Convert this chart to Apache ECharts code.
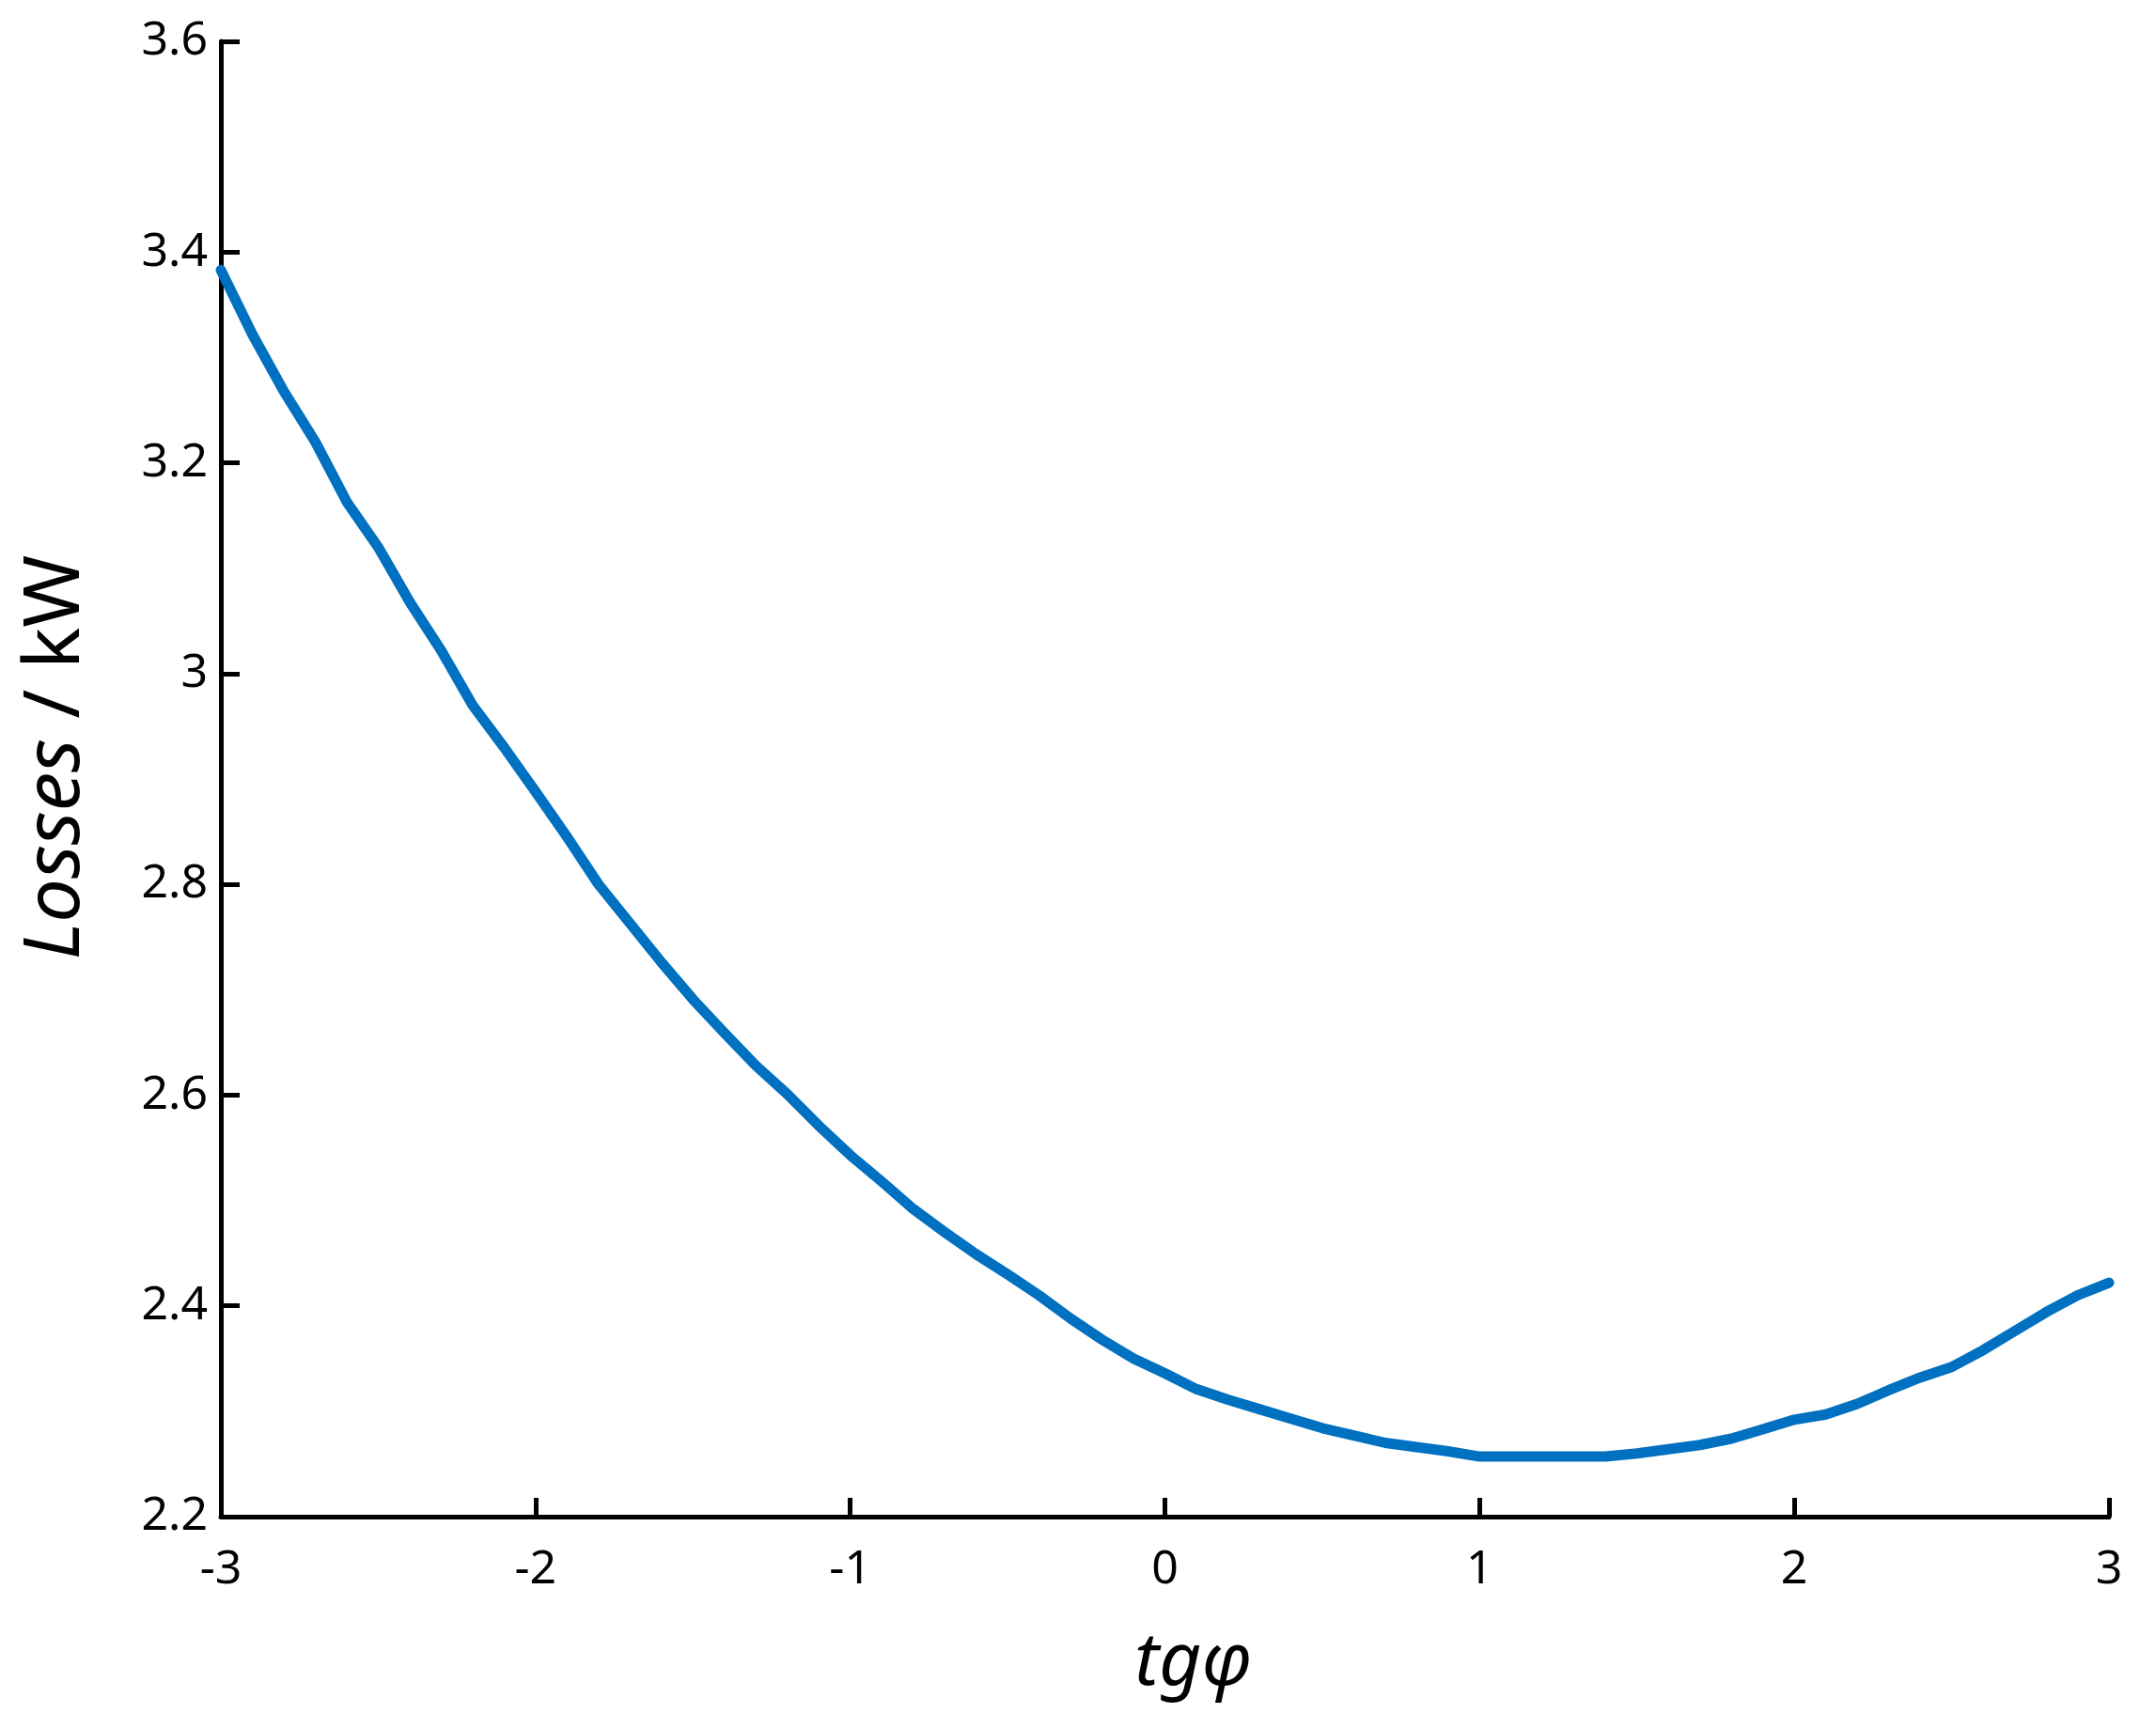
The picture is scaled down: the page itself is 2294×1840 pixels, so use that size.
<!DOCTYPE html>
<html>
<head>
<meta charset="utf-8">
<script src="https://cdn.jsdelivr.net/npm/echarts@6/dist/echarts.min.js"></script>
<style>
html,body{margin:0;padding:0;background:#fff;}
#chart{width:2294px;height:1840px;}
</style>
</head>
<body>
<div id="chart"></div>
<script>
// x values (tgφ)
const tgPhi = [-3.0,-2.9,-2.8,-2.7,-2.6,-2.5,-2.4,-2.3,-2.2,-2.1,-2.0,-1.9,-1.8,-1.7,-1.6,-1.5,-1.4,-1.3,-1.2,-1.1,-1.0,-0.9,-0.8,-0.7,-0.6,-0.5,-0.4,-0.3,-0.2,-0.1,0.0,0.1,0.2,0.3,0.4,0.5,0.6,0.7,0.8,0.9,1.0,1.1,1.2,1.3,1.4,1.5,1.6,1.7,1.8,1.9,2.0,2.1,2.2,2.3,2.4,2.5,2.6,2.7,2.8,2.9,3.0];
// losses (kW)
const losses = [3.383,3.322,3.268,3.220,3.163,3.120,3.068,3.022,2.970,2.930,2.888,2.845,2.800,2.763,2.726,2.691,2.659,2.628,2.601,2.571,2.543,2.518,2.492,2.470,2.449,2.430,2.410,2.388,2.368,2.350,2.336,2.321,2.311,2.302,2.293,2.284,2.277,2.270,2.266,2.262,2.257,2.257,2.257,2.257,2.257,2.260,2.264,2.268,2.274,2.283,2.292,2.297,2.307,2.320,2.332,2.342,2.358,2.376,2.394,2.410,2.422];
const xTitle = 'tgφ';
const yTitleItalic = 'Losses';
const yTitleRest = ' / kW';

const chart = echarts.init(document.getElementById('chart'));
const fontFam = '"Noto Sans", "Open Sans", sans-serif';
chart.setOption({
  animation: false,
  backgroundColor: '#ffffff',
  grid: {left: 235, right: 50, top: 44, bottom: 226},
  xAxis: {
    type: 'value', min: -3, max: 3, interval: 1,
    name: xTitle, nameLocation: 'middle', nameGap: 118,
    nameTextStyle: {fontFamily: fontFam, fontSize: 78, fontStyle: 'italic', color: '#000', padding: [0, 0, 0, 60]},
    axisLine: {show: true, onZero: false, lineStyle: {color: '#000', width: 5}},
    axisTick: {show: true, inside: true, length: 20, lineStyle: {color: '#000', width: 5}},
    axisLabel: {fontFamily: fontFam, fontSize: 50, color: '#000', margin: 32},
    splitLine: {show: false}
  },
  yAxis: {
    type: 'value', min: 2.2, max: 3.6, interval: 0.2,
    name: '{i|' + yTitleItalic + '}' + yTitleRest, nameLocation: 'middle', nameGap: 133,
    nameTextStyle: {fontFamily: fontFam, fontSize: 83, color: '#000', padding: [0, 0, 0, 46],
      rich: {i: {fontFamily: fontFam, fontSize: 83, fontStyle: 'italic', color: '#000'}}},
    axisLine: {show: true, onZero: false, lineStyle: {color: '#000', width: 5}},
    axisTick: {show: true, inside: true, length: 20, lineStyle: {color: '#000', width: 5}},
    axisLabel: {fontFamily: fontFam, fontSize: 50, color: '#000', margin: 14,
      formatter: v => String(Math.round(v * 10) / 10)},
    splitLine: {show: false}
  },
  series: [{
    type: 'line',
    data: tgPhi.map((x, i) => [x, losses[i]]),
    showSymbol: false,
    smooth: false,
    lineStyle: {color: '#0070C0', width: 11, cap: 'round', join: 'round'},
    clip: false
  }]
});
</script>
</body>
</html>
